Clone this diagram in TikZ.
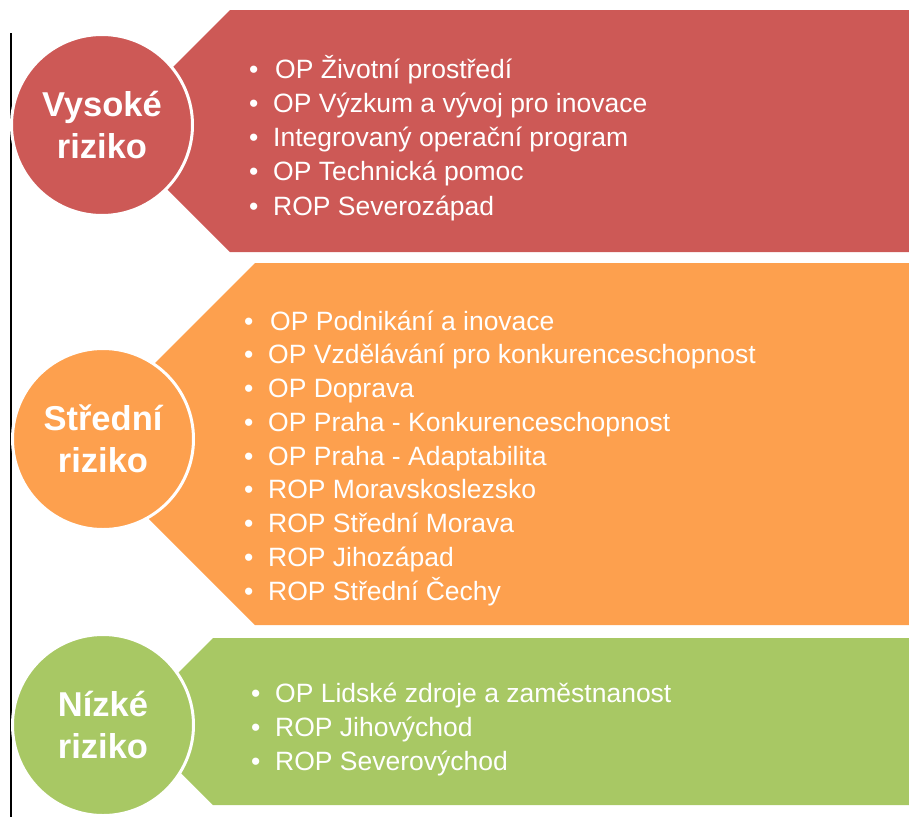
\documentclass[tikz,border=0pt]{standalone}
\usepackage{fontspec}
\setmainfont{Liberation Sans}
\definecolor{bandred}{RGB}{205,89,86}
\definecolor{bandorange}{RGB}{253,160,78}
\definecolor{bandgreen}{RGB}{168,200,100}
\begin{document}
\begin{tikzpicture}[x=1pt,y=-1pt,
  riskcircle/.style={circle,fill=#1,draw=white,line width=3pt,minimum size=181pt,inner sep=0pt,
    text=white,font=\fontsize{34.5}{42}\selectfont\bfseries,align=center},
  itemline/.style={anchor=base west,inner sep=0pt,text=white,font=\fontsize{26.5}{30}\selectfont},
  bandshape/.style={fill=#1,draw=none}]
\useasboundingbox (0,0) rectangle (909,817);
% left rule
\coordinate (ltop) at (11,33);
\coordinate (lbot) at (11,817);
\draw[line width=1.6pt,black] (ltop) -- (lbot);
% bands
\fill[bandshape=bandred] (230,10) -- (909,10) -- (909,252) -- (230,252) -- (109,131) -- cycle;
\fill[bandshape=bandorange] (255,263) -- (909,263) -- (909,625) -- (255,625) -- (74,444) -- cycle;
\fill[bandshape=bandgreen] (213,638) -- (909,638) -- (909,805) -- (213,805) -- (129.5,721.5) -- cycle;
% circles
\node[riskcircle=bandred] (high) at (102,125) {Vysoké\\riziko};
\node[riskcircle=bandorange] (mid) at (103,439) {Střední\\riziko};
\node[riskcircle=bandgreen] (low) at (103,725) {Nízké\\riziko};
% items
\foreach \t [count=\i] in {OP Životní prostředí, OP Výzkum a vývoj pro inovace,
  Integrovaný operační program, OP Technická pomoc, ROP Severozápad}
  \node[itemline] (r\i) at (249,{78+34.25*(\i-1)})
    {\makebox[24pt][l]{•}\ifnum\i=1\hspace{2pt}\fi\t};
\foreach \t [count=\i] in {OP Podnikání a inovace, OP Vzdělávání pro konkurenceschopnost,
  OP Doprava, OP Praha - Konkurenceschopnost, OP Praha - Adaptabilita,
  ROP Moravskoslezsko, ROP Střední Morava, ROP Jihozápad, ROP Střední Čechy}
  \node[itemline] (o\i) at (244,{330+33.75*(\i-1)})
    {\makebox[24pt][l]{•}\ifnum\i=1\hspace{2pt}\fi\t};
\foreach \t [count=\i] in {OP Lidské zdroje a zaměstnanost, ROP Jihovýchod, ROP Severovýchod}
  \node[itemline] (g\i) at (251,{702.5+33.75*(\i-1)})
    {\makebox[24pt][l]{•}\t};
\end{tikzpicture}
\end{document}
